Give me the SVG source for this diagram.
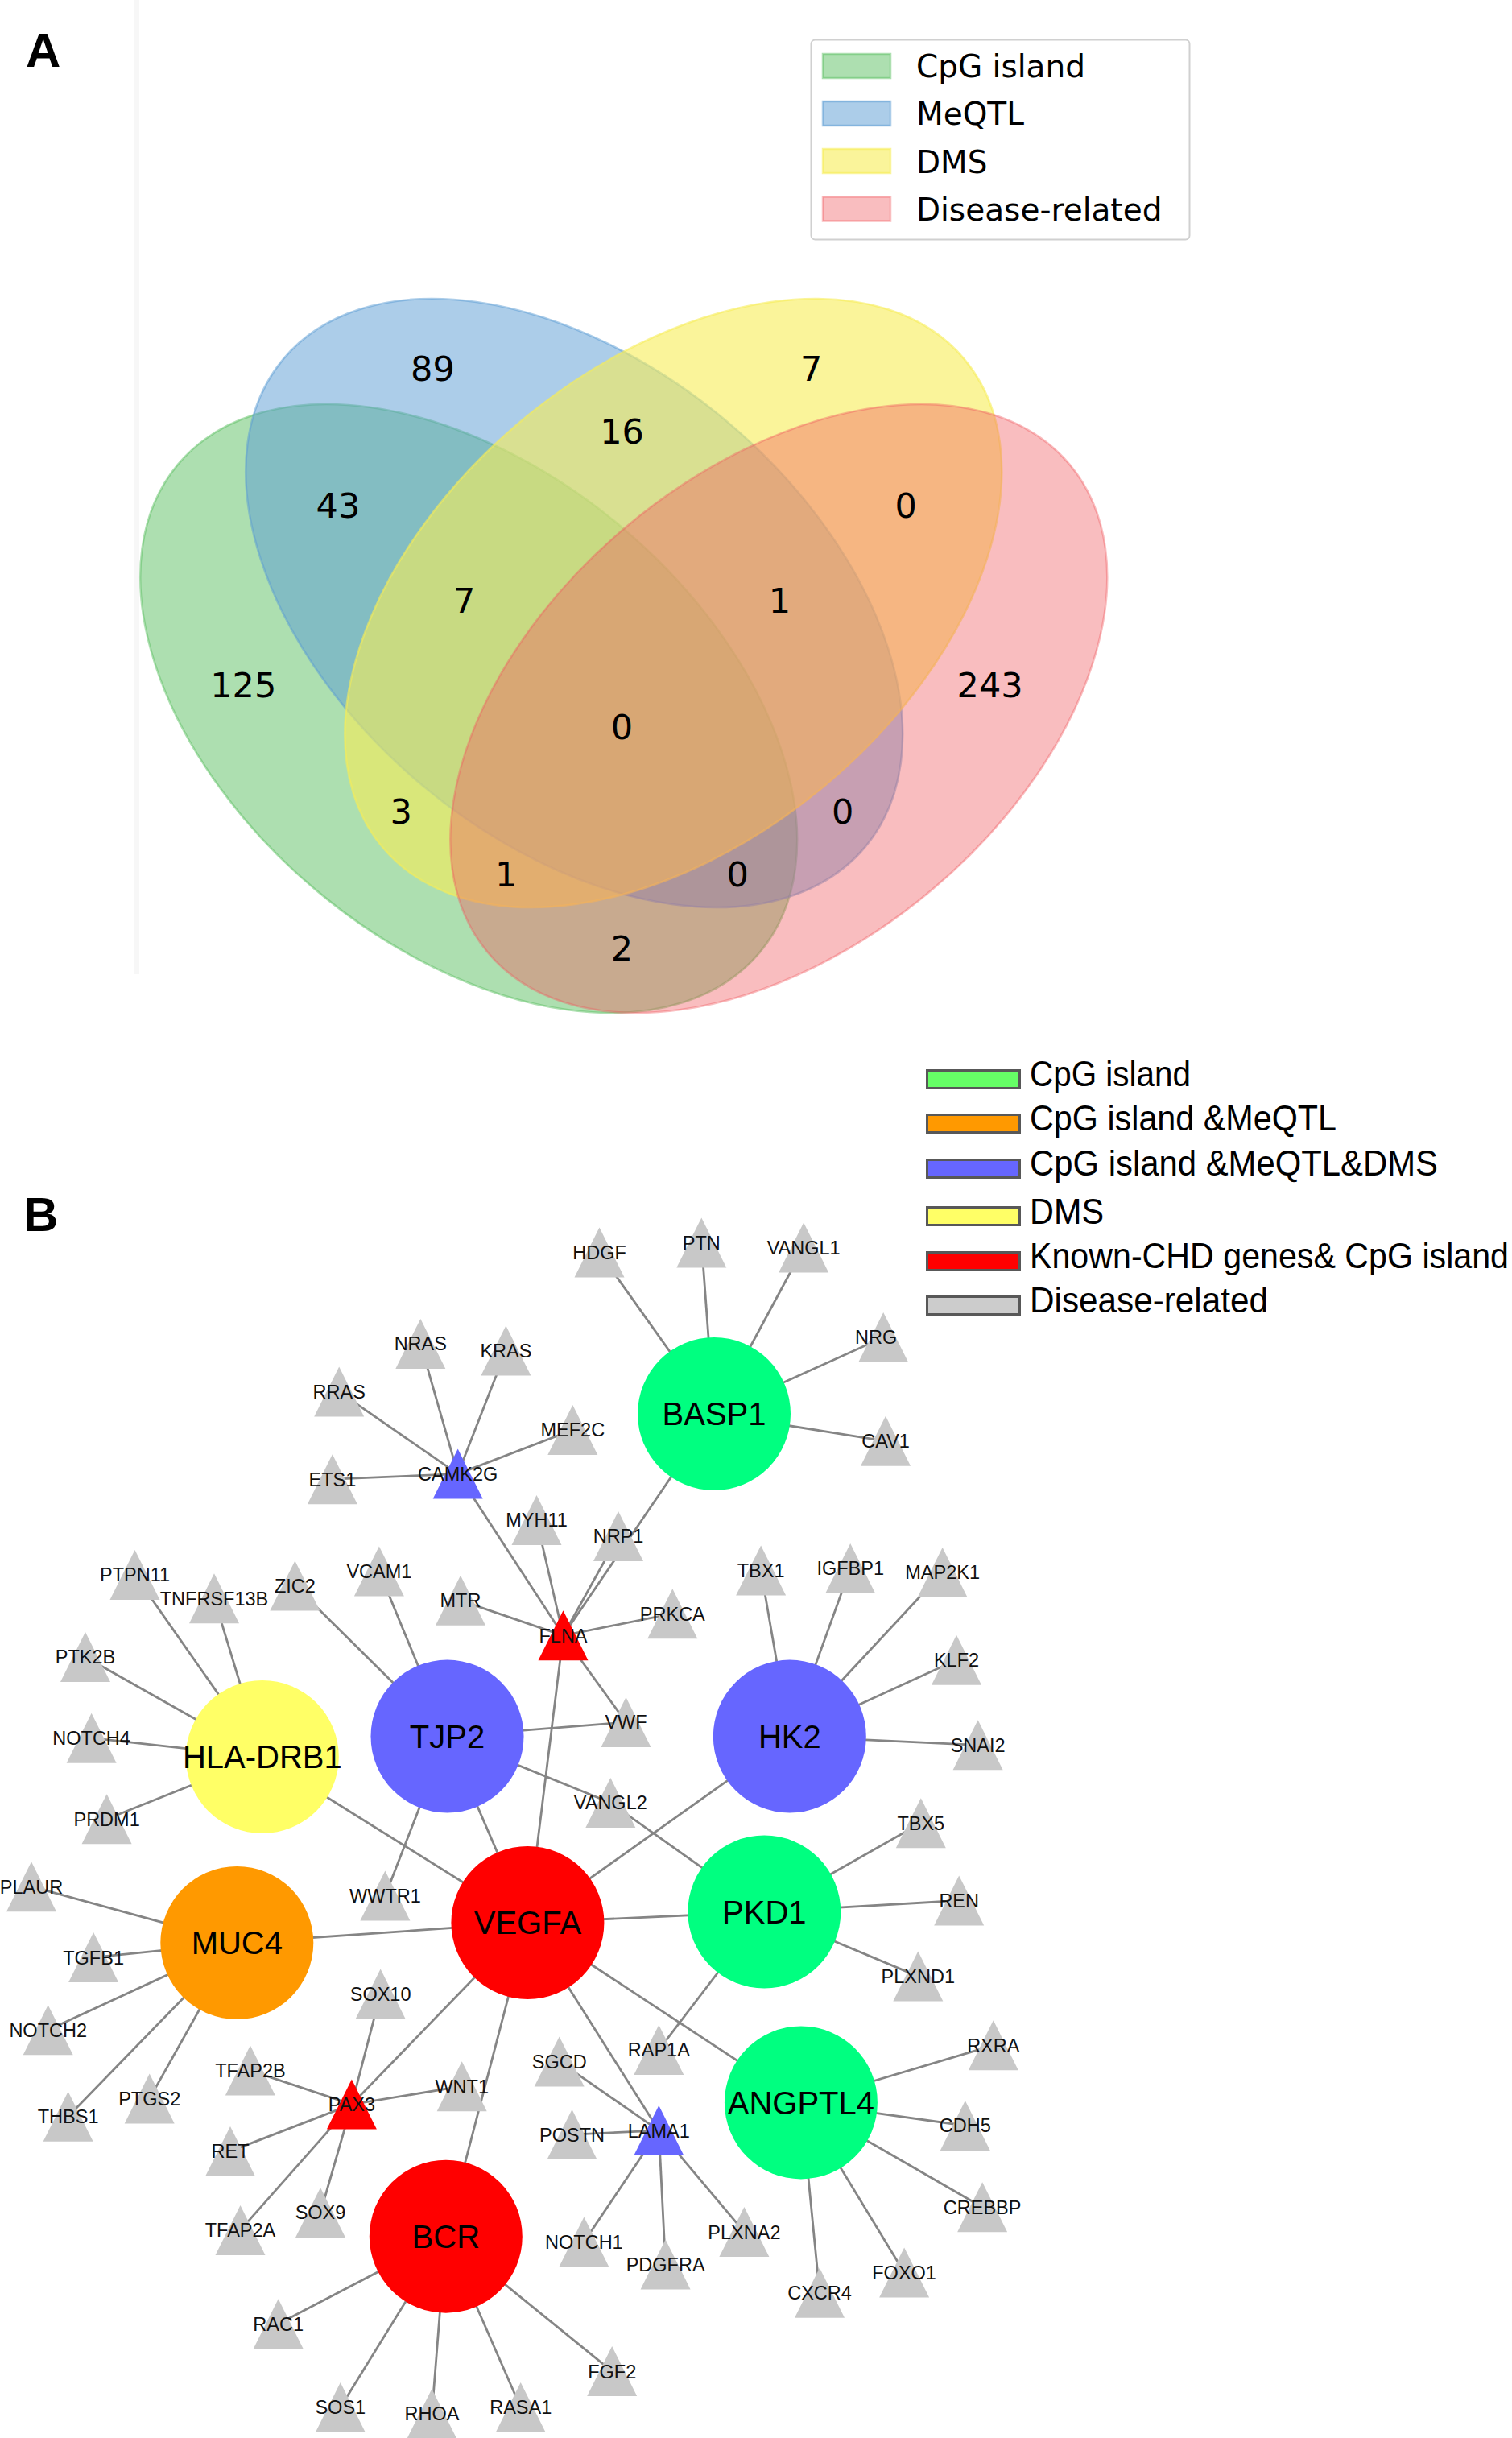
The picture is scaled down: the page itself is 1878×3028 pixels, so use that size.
<svg xmlns="http://www.w3.org/2000/svg" xmlns:xlink="http://www.w3.org/1999/xlink" width="1878" height="3028" viewBox="0 0 1878 3028">
<style>
.panel{font-family:"Liberation Sans",Arial,sans-serif;font-weight:bold;font-size:60px;fill:#000}
.vn{font-family:"DejaVu Sans",sans-serif;font-size:43px;fill:#000;text-anchor:middle}
.lga{font-family:"DejaVu Sans",sans-serif;font-size:39px;fill:#000}
.lgb{font-family:"Liberation Sans",Arial,sans-serif;font-size:44px;fill:#000}
.lgp{stroke:#585858;stroke-width:3}
.e line{stroke:#858585;stroke-width:2.8}
.big{font-family:"Liberation Sans",Arial,sans-serif;font-size:40px;fill:#000;text-anchor:middle}
.sm{font-family:"Liberation Sans",Arial,sans-serif;font-size:23.5px;fill:#111;text-anchor:middle}
.g{fill:#c8c8c8}
.cg{fill:#00ff80}
.cb{fill:#6666ff}
.cy{fill:#ffff66}
.co{fill:#ff9900}
.cr{fill:#ff0000}
.vg{fill:rgb(92,192,98);fill-opacity:.5;stroke:rgb(92,192,98);stroke-opacity:.5;stroke-width:2.5}
.vb{fill:rgb(90,155,212);fill-opacity:.5;stroke:rgb(90,155,212);stroke-opacity:.5;stroke-width:2.5}
.vy{fill:rgb(246,236,86);fill-opacity:.6;stroke:rgb(246,236,86);stroke-opacity:.6;stroke-width:2.5}
.vr{fill:rgb(241,90,96);fill-opacity:.4;stroke:rgb(241,90,96);stroke-opacity:.4;stroke-width:2.5}
</style>
<defs>
<path id="tri" d="M0,-31 L31,31 L-31,31 Z"/>
</defs>
<rect x="0" y="0" width="1878" height="3028" fill="#ffffff"/>
<rect x="167" y="0" width="6" height="1210" fill="#f7f7f7"/>

<!-- Panel A -->
<text class="panel" x="32" y="83">A</text>
<g id="venn">
<ellipse id="set-cpg" class="vg" cx="582.2" cy="880" rx="471.6" ry="294.75" transform="rotate(40 582.2 880)"/>
<ellipse id="set-meqtl" class="vb" cx="713.2" cy="749" rx="471.6" ry="294.75" transform="rotate(40 713.2 749)"/>
<ellipse id="set-dms" class="vy" cx="836.3" cy="749" rx="471.6" ry="294.75" transform="rotate(-40 836.3 749)"/>
<ellipse id="set-disease" class="vr" cx="967.3" cy="880" rx="471.6" ry="294.75" transform="rotate(-40 967.3 880)"/>
</g>
<g id="venn-counts">
<text class="vn" x="1229.6" y="865.5">243</text>
<text class="vn" x="1007.6" y="472.5">7</text>
<text class="vn" x="1125.1" y="642.8">0</text>
<text class="vn" x="537.4" y="472.5">89</text>
<text class="vn" x="1046.8" y="1022.7">0</text>
<text class="vn" x="772.5" y="551.1">16</text>
<text class="vn" x="968.4" y="760.7">1</text>
<text class="vn" x="302.3" y="865.5">125</text>
<text class="vn" x="772.5" y="1193">2</text>
<text class="vn" x="498.2" y="1022.7">3</text>
<text class="vn" x="628.8" y="1101.3">1</text>
<text class="vn" x="419.9" y="642.8">43</text>
<text class="vn" x="916.2" y="1101.3">0</text>
<text class="vn" x="576.6" y="760.7">7</text>
<text class="vn" x="772.5" y="917.9">0</text>
</g>
<g id="legend-a">
<rect x="1007.5" y="49.5" width="470" height="248" rx="5" fill="#ffffff" stroke="#d0d0d0" stroke-width="2"/>
<rect class="vg" x="1022" y="67" width="84" height="30"/>
<rect class="vb" x="1022" y="126" width="84" height="30"/>
<rect class="vy" x="1022" y="185" width="84" height="30"/>
<rect class="vr" x="1022" y="244.5" width="84" height="30"/>
<text class="lga" x="1138" y="96">CpG island</text>
<text class="lga" x="1138" y="155">MeQTL</text>
<text class="lga" x="1138" y="214.5">DMS</text>
<text class="lga" x="1138" y="273.5">Disease-related</text>
</g>

<!-- Panel B -->
<text class="panel" x="29" y="1529">B</text>
<g id="legend-b">
<rect class="lgp" x="1151.5" y="1329.5" width="115" height="22" fill="#66ff66"/>
<rect class="lgp" x="1151.5" y="1384.5" width="115" height="22" fill="#ff9900"/>
<rect class="lgp" x="1151.5" y="1440.5" width="115" height="22" fill="#6666ff"/>
<rect class="lgp" x="1151.5" y="1499.5" width="115" height="22" fill="#ffff66"/>
<rect class="lgp" x="1151.5" y="1555.5" width="115" height="22" fill="#ff0000"/>
<rect class="lgp" x="1151.5" y="1610.5" width="115" height="22" fill="#cccccc"/>
<text class="lgb" x="1279" y="1348.5" textLength="200" lengthAdjust="spacingAndGlyphs">CpG island</text>
<text class="lgb" x="1279" y="1404" textLength="381" lengthAdjust="spacingAndGlyphs">CpG island &amp;MeQTL</text>
<text class="lgb" x="1279" y="1460" textLength="507" lengthAdjust="spacingAndGlyphs">CpG island &amp;MeQTL&amp;DMS</text>
<text class="lgb" x="1279" y="1519.5" textLength="92" lengthAdjust="spacingAndGlyphs">DMS</text>
<text class="lgb" x="1279" y="1574.5" textLength="595" lengthAdjust="spacingAndGlyphs">Known-CHD genes&amp; CpG island</text>
<text class="lgb" x="1279" y="1629.5" textLength="296" lengthAdjust="spacingAndGlyphs">Disease-related</text>
</g>

<g id="edges" class="e">
<line x1="887" y1="1756" x2="744.5" y2="1555.6"/>
<line x1="887" y1="1756" x2="871.3" y2="1543.4"/>
<line x1="887" y1="1756" x2="998.2" y2="1549.5"/>
<line x1="887" y1="1756" x2="1097.2" y2="1661"/>
<line x1="887" y1="1756" x2="1100" y2="1789.8"/>
<line x1="887" y1="1756" x2="699.5" y2="2031.3"/>
<line x1="568.7" y1="1830.6" x2="522.3" y2="1668.9"/>
<line x1="568.7" y1="1830.6" x2="628.4" y2="1677.6"/>
<line x1="568.7" y1="1830.6" x2="421.2" y2="1728.6"/>
<line x1="568.7" y1="1830.6" x2="711.3" y2="1776"/>
<line x1="568.7" y1="1830.6" x2="412.9" y2="1837.2"/>
<line x1="568.7" y1="1830.6" x2="699.5" y2="2031.3"/>
<line x1="699.5" y1="2031.3" x2="666.5" y2="1888"/>
<line x1="699.5" y1="2031.3" x2="768" y2="1908"/>
<line x1="699.5" y1="2031.3" x2="572" y2="1987.8"/>
<line x1="699.5" y1="2031.3" x2="835.3" y2="2004.2"/>
<line x1="699.5" y1="2031.3" x2="777.5" y2="2139"/>
<line x1="699.5" y1="2031.3" x2="655.4" y2="2388"/>
<line x1="555.5" y1="2156.6" x2="366.4" y2="1969.4"/>
<line x1="555.5" y1="2156.6" x2="470.9" y2="1951.5"/>
<line x1="555.5" y1="2156.6" x2="777.5" y2="2139"/>
<line x1="555.5" y1="2156.6" x2="758.3" y2="2239"/>
<line x1="555.5" y1="2156.6" x2="478.4" y2="2354.4"/>
<line x1="555.5" y1="2156.6" x2="655.4" y2="2388"/>
<line x1="325.8" y1="2182" x2="167.5" y2="1956"/>
<line x1="325.8" y1="2182" x2="266" y2="1985.2"/>
<line x1="325.8" y1="2182" x2="106" y2="2058"/>
<line x1="325.8" y1="2182" x2="113.6" y2="2158.7"/>
<line x1="325.8" y1="2182" x2="132.6" y2="2259.2"/>
<line x1="325.8" y1="2182" x2="655.4" y2="2388"/>
<line x1="980.8" y1="2156.6" x2="945.1" y2="1950.5"/>
<line x1="980.8" y1="2156.6" x2="1056.2" y2="1948"/>
<line x1="980.8" y1="2156.6" x2="1170.6" y2="1953"/>
<line x1="980.8" y1="2156.6" x2="1188" y2="2061.7"/>
<line x1="980.8" y1="2156.6" x2="1214.6" y2="2167.3"/>
<line x1="980.8" y1="2156.6" x2="655.4" y2="2388"/>
<line x1="949.3" y1="2374.5" x2="758.3" y2="2239"/>
<line x1="949.3" y1="2374.5" x2="1143.8" y2="2264.2"/>
<line x1="949.3" y1="2374.5" x2="1191.2" y2="2360.5"/>
<line x1="949.3" y1="2374.5" x2="1140.3" y2="2454.6"/>
<line x1="949.3" y1="2374.5" x2="818.3" y2="2545.9"/>
<line x1="949.3" y1="2374.5" x2="655.4" y2="2388"/>
<line x1="294.3" y1="2413" x2="39" y2="2343.2"/>
<line x1="294.3" y1="2413" x2="116.1" y2="2431.1"/>
<line x1="294.3" y1="2413" x2="59.7" y2="2521.2"/>
<line x1="294.3" y1="2413" x2="84.6" y2="2628.7"/>
<line x1="294.3" y1="2413" x2="185.7" y2="2606.4"/>
<line x1="294.3" y1="2413" x2="655.4" y2="2388"/>
<line x1="994.9" y1="2611.4" x2="1233.8" y2="2540.3"/>
<line x1="994.9" y1="2611.4" x2="1198.8" y2="2640"/>
<line x1="994.9" y1="2611.4" x2="1220.1" y2="2741.3"/>
<line x1="994.9" y1="2611.4" x2="1123.1" y2="2822.5"/>
<line x1="994.9" y1="2611.4" x2="1018" y2="2847.7"/>
<line x1="994.9" y1="2611.4" x2="655.4" y2="2388"/>
<line x1="436.9" y1="2613.6" x2="472.6" y2="2476.4"/>
<line x1="436.9" y1="2613.6" x2="310.9" y2="2571.6"/>
<line x1="436.9" y1="2613.6" x2="573.7" y2="2591.2"/>
<line x1="436.9" y1="2613.6" x2="286" y2="2671.9"/>
<line x1="436.9" y1="2613.6" x2="298.5" y2="2769.9"/>
<line x1="436.9" y1="2613.6" x2="398" y2="2748"/>
<line x1="436.9" y1="2613.6" x2="655.4" y2="2388"/>
<line x1="818.3" y1="2646.1" x2="694.7" y2="2560.4"/>
<line x1="818.3" y1="2646.1" x2="710.5" y2="2651.1"/>
<line x1="818.3" y1="2646.1" x2="725.4" y2="2784.4"/>
<line x1="818.3" y1="2646.1" x2="826.6" y2="2812.4"/>
<line x1="818.3" y1="2646.1" x2="924.4" y2="2772.1"/>
<line x1="818.3" y1="2646.1" x2="655.4" y2="2388"/>
<line x1="553.8" y1="2777.7" x2="345.7" y2="2886.3"/>
<line x1="553.8" y1="2777.7" x2="422.8" y2="2990"/>
<line x1="553.8" y1="2777.7" x2="536.4" y2="2998"/>
<line x1="553.8" y1="2777.7" x2="646.7" y2="2990"/>
<line x1="553.8" y1="2777.7" x2="760.2" y2="2945.1"/>
<line x1="553.8" y1="2777.7" x2="655.4" y2="2388"/>
</g>

<g id="nodes">
<g id="n-HDGF"><use href="#tri" x="744.5" y="1555.6" class="g"/><text class="sm" x="744.5" y="1564">HDGF</text></g>
<g id="n-PTN"><use href="#tri" x="871.3" y="1543.4" class="g"/><text class="sm" x="871.3" y="1551.8">PTN</text></g>
<g id="n-VANGL1"><use href="#tri" x="998.2" y="1549.5" class="g"/><text class="sm" x="998.2" y="1557.9">VANGL1</text></g>
<g id="n-NRG"><use href="#tri" x="1097.2" y="1661" class="g"/><text class="sm" x="1062" y="1669.4" style="text-anchor:start">NRG</text></g>
<g id="n-CAV1"><use href="#tri" x="1100" y="1789.8" class="g"/><text class="sm" x="1100" y="1798.2">CAV1</text></g>
<g id="n-NRAS"><use href="#tri" x="522.3" y="1668.9" class="g"/><text class="sm" x="522.3" y="1677.3">NRAS</text></g>
<g id="n-KRAS"><use href="#tri" x="628.4" y="1677.6" class="g"/><text class="sm" x="628.4" y="1686">KRAS</text></g>
<g id="n-RRAS"><use href="#tri" x="421.2" y="1728.6" class="g"/><text class="sm" x="421.2" y="1737">RRAS</text></g>
<g id="n-MEF2C"><use href="#tri" x="711.3" y="1776" class="g"/><text class="sm" x="711.3" y="1784.4">MEF2C</text></g>
<g id="n-ETS1"><use href="#tri" x="412.9" y="1837.2" class="g"/><text class="sm" x="412.9" y="1845.6">ETS1</text></g>
<g id="n-CAMK2G"><use href="#tri" x="568.7" y="1830.6" class="cb"/><text class="sm" x="568.7" y="1839">CAMK2G</text></g>
<g id="n-MYH11"><use href="#tri" x="666.5" y="1888" class="g"/><text class="sm" x="666.5" y="1896.4">MYH11</text></g>
<g id="n-NRP1"><use href="#tri" x="768" y="1908" class="g"/><text class="sm" x="768" y="1916.4">NRP1</text></g>
<g id="n-VCAM1"><use href="#tri" x="470.9" y="1951.5" class="g"/><text class="sm" x="470.9" y="1959.9">VCAM1</text></g>
<g id="n-MTR"><use href="#tri" x="572" y="1987.8" class="g"/><text class="sm" x="572" y="1996.2">MTR</text></g>
<g id="n-PRKCA"><use href="#tri" x="835.3" y="2004.2" class="g"/><text class="sm" x="835.3" y="2012.6">PRKCA</text></g>
<g id="n-FLNA"><use href="#tri" x="699.5" y="2031.3" class="cr"/><text class="sm" x="699.5" y="2039.7">FLNA</text></g>
<g id="n-PTPN11"><use href="#tri" x="167.5" y="1956" class="g"/><text class="sm" x="167.5" y="1964.4">PTPN11</text></g>
<g id="n-TNFRSF13B"><use href="#tri" x="266" y="1985.2" class="g"/><text class="sm" x="266" y="1993.6">TNFRSF13B</text></g>
<g id="n-ZIC2"><use href="#tri" x="366.4" y="1969.4" class="g"/><text class="sm" x="366.4" y="1977.8">ZIC2</text></g>
<g id="n-PTK2B"><use href="#tri" x="106" y="2058" class="g"/><text class="sm" x="106" y="2066.4">PTK2B</text></g>
<g id="n-NOTCH4"><use href="#tri" x="113.6" y="2158.7" class="g"/><text class="sm" x="113.6" y="2167.1">NOTCH4</text></g>
<g id="n-VWF"><use href="#tri" x="777.5" y="2139" class="g"/><text class="sm" x="777.5" y="2147.4">VWF</text></g>
<g id="n-VANGL2"><use href="#tri" x="758.3" y="2239" class="g"/><text class="sm" x="758.3" y="2247.4">VANGL2</text></g>
<g id="n-TBX1"><use href="#tri" x="945.1" y="1950.5" class="g"/><text class="sm" x="945.1" y="1958.9">TBX1</text></g>
<g id="n-IGFBP1"><use href="#tri" x="1056.2" y="1948" class="g"/><text class="sm" x="1056.2" y="1956.4">IGFBP1</text></g>
<g id="n-MAP2K1"><use href="#tri" x="1170.6" y="1953" class="g"/><text class="sm" x="1170.6" y="1961.4">MAP2K1</text></g>
<g id="n-KLF2"><use href="#tri" x="1188" y="2061.7" class="g"/><text class="sm" x="1188" y="2070.1">KLF2</text></g>
<g id="n-SNAI2"><use href="#tri" x="1214.6" y="2167.3" class="g"/><text class="sm" x="1214.6" y="2175.7">SNAI2</text></g>
<g id="n-PRDM1"><use href="#tri" x="132.6" y="2259.2" class="g"/><text class="sm" x="132.6" y="2267.6">PRDM1</text></g>
<g id="n-PLAUR"><use href="#tri" x="39" y="2343.2" class="g"/><text class="sm" x="39" y="2351.6">PLAUR</text></g>
<g id="n-TGFB1"><use href="#tri" x="116.1" y="2431.1" class="g"/><text class="sm" x="116.1" y="2439.5">TGFB1</text></g>
<g id="n-NOTCH2"><use href="#tri" x="59.7" y="2521.2" class="g"/><text class="sm" x="59.7" y="2529.6">NOTCH2</text></g>
<g id="n-THBS1"><use href="#tri" x="84.6" y="2628.7" class="g"/><text class="sm" x="84.6" y="2637.1">THBS1</text></g>
<g id="n-PTGS2"><use href="#tri" x="185.7" y="2606.4" class="g"/><text class="sm" x="185.7" y="2614.8">PTGS2</text></g>
<g id="n-WWTR1"><use href="#tri" x="478.4" y="2354.4" class="g"/><text class="sm" x="478.4" y="2362.8">WWTR1</text></g>
<g id="n-SOX10"><use href="#tri" x="472.6" y="2476.4" class="g"/><text class="sm" x="472.6" y="2484.8">SOX10</text></g>
<g id="n-TFAP2B"><use href="#tri" x="310.9" y="2571.6" class="g"/><text class="sm" x="310.9" y="2580">TFAP2B</text></g>
<g id="n-WNT1"><use href="#tri" x="573.7" y="2591.2" class="g"/><text class="sm" x="573.7" y="2599.6">WNT1</text></g>
<g id="n-RET"><use href="#tri" x="286" y="2671.9" class="g"/><text class="sm" x="286" y="2680.3">RET</text></g>
<g id="n-TFAP2A"><use href="#tri" x="298.5" y="2769.9" class="g"/><text class="sm" x="298.5" y="2778.3">TFAP2A</text></g>
<g id="n-SOX9"><use href="#tri" x="398" y="2748" class="g"/><text class="sm" x="398" y="2756.4">SOX9</text></g>
<g id="n-PAX3"><use href="#tri" x="436.9" y="2613.6" class="cr"/><text class="sm" x="436.9" y="2622">PAX3</text></g>
<g id="n-SGCD"><use href="#tri" x="694.7" y="2560.4" class="g"/><text class="sm" x="694.7" y="2568.8">SGCD</text></g>
<g id="n-RAP1A"><use href="#tri" x="818.3" y="2545.9" class="g"/><text class="sm" x="818.3" y="2554.3">RAP1A</text></g>
<g id="n-POSTN"><use href="#tri" x="710.5" y="2651.1" class="g"/><text class="sm" x="710.5" y="2659.5">POSTN</text></g>
<g id="n-LAMA1"><use href="#tri" x="818.3" y="2646.1" class="cb"/><text class="sm" x="818.3" y="2654.5">LAMA1</text></g>
<g id="n-NOTCH1"><use href="#tri" x="725.4" y="2784.4" class="g"/><text class="sm" x="725.4" y="2792.8">NOTCH1</text></g>
<g id="n-PDGFRA"><use href="#tri" x="826.6" y="2812.4" class="g"/><text class="sm" x="826.6" y="2820.8">PDGFRA</text></g>
<g id="n-PLXNA2"><use href="#tri" x="924.4" y="2772.1" class="g"/><text class="sm" x="924.4" y="2780.5">PLXNA2</text></g>
<g id="n-RAC1"><use href="#tri" x="345.7" y="2886.3" class="g"/><text class="sm" x="345.7" y="2894.7">RAC1</text></g>
<g id="n-SOS1"><use href="#tri" x="422.8" y="2990" class="g"/><text class="sm" x="422.8" y="2998.4">SOS1</text></g>
<g id="n-RHOA"><use href="#tri" x="536.4" y="2998" class="g"/><text class="sm" x="536.4" y="3006.4">RHOA</text></g>
<g id="n-RASA1"><use href="#tri" x="646.7" y="2990" class="g"/><text class="sm" x="646.7" y="2998.4">RASA1</text></g>
<g id="n-FGF2"><use href="#tri" x="760.2" y="2945.1" class="g"/><text class="sm" x="760.2" y="2953.5">FGF2</text></g>
<g id="n-TBX5"><use href="#tri" x="1143.8" y="2264.2" class="g"/><text class="sm" x="1143.8" y="2272.6">TBX5</text></g>
<g id="n-REN"><use href="#tri" x="1191.2" y="2360.5" class="g"/><text class="sm" x="1191.2" y="2368.9">REN</text></g>
<g id="n-PLXND1"><use href="#tri" x="1140.3" y="2454.6" class="g"/><text class="sm" x="1140.3" y="2463">PLXND1</text></g>
<g id="n-RXRA"><use href="#tri" x="1233.8" y="2540.3" class="g"/><text class="sm" x="1233.8" y="2548.7">RXRA</text></g>
<g id="n-CDH5"><use href="#tri" x="1198.8" y="2640" class="g"/><text class="sm" x="1198.8" y="2648.4">CDH5</text></g>
<g id="n-CREBBP"><use href="#tri" x="1220.1" y="2741.3" class="g"/><text class="sm" x="1220.1" y="2749.7">CREBBP</text></g>
<g id="n-FOXO1"><use href="#tri" x="1123.1" y="2822.5" class="g"/><text class="sm" x="1123.1" y="2830.9">FOXO1</text></g>
<g id="n-CXCR4"><use href="#tri" x="1018" y="2847.7" class="g"/><text class="sm" x="1018" y="2856.1">CXCR4</text></g>

<g id="n-BASP1"><circle class="cg" cx="887" cy="1756" r="95"/><text class="big" x="887" y="1770.3">BASP1</text></g>
<g id="n-TJP2"><circle class="cb" cx="555.5" cy="2156.6" r="95"/><text class="big" x="555.5" y="2170.9">TJP2</text></g>
<g id="n-HK2"><circle class="cb" cx="980.8" cy="2156.6" r="95"/><text class="big" x="980.8" y="2170.9">HK2</text></g>
<g id="n-HLA-DRB1"><circle class="cy" cx="325.8" cy="2182" r="95"/><text class="big" x="325.8" y="2196.3">HLA-DRB1</text></g>
<g id="n-VEGFA"><circle class="cr" cx="655.4" cy="2388" r="95"/><text class="big" x="655.4" y="2402.3">VEGFA</text></g>
<g id="n-PKD1"><circle class="cg" cx="949.3" cy="2374.5" r="95"/><text class="big" x="949.3" y="2388.8">PKD1</text></g>
<g id="n-MUC4"><circle class="co" cx="294.3" cy="2413" r="95"/><text class="big" x="294.3" y="2427.3">MUC4</text></g>
<g id="n-ANGPTL4"><circle class="cg" cx="994.9" cy="2611.4" r="95"/><text class="big" x="994.9" y="2625.7">ANGPTL4</text></g>
<g id="n-BCR"><circle class="cr" cx="553.8" cy="2777.7" r="95"/><text class="big" x="553.8" y="2792">BCR</text></g>
</g>
</svg>
